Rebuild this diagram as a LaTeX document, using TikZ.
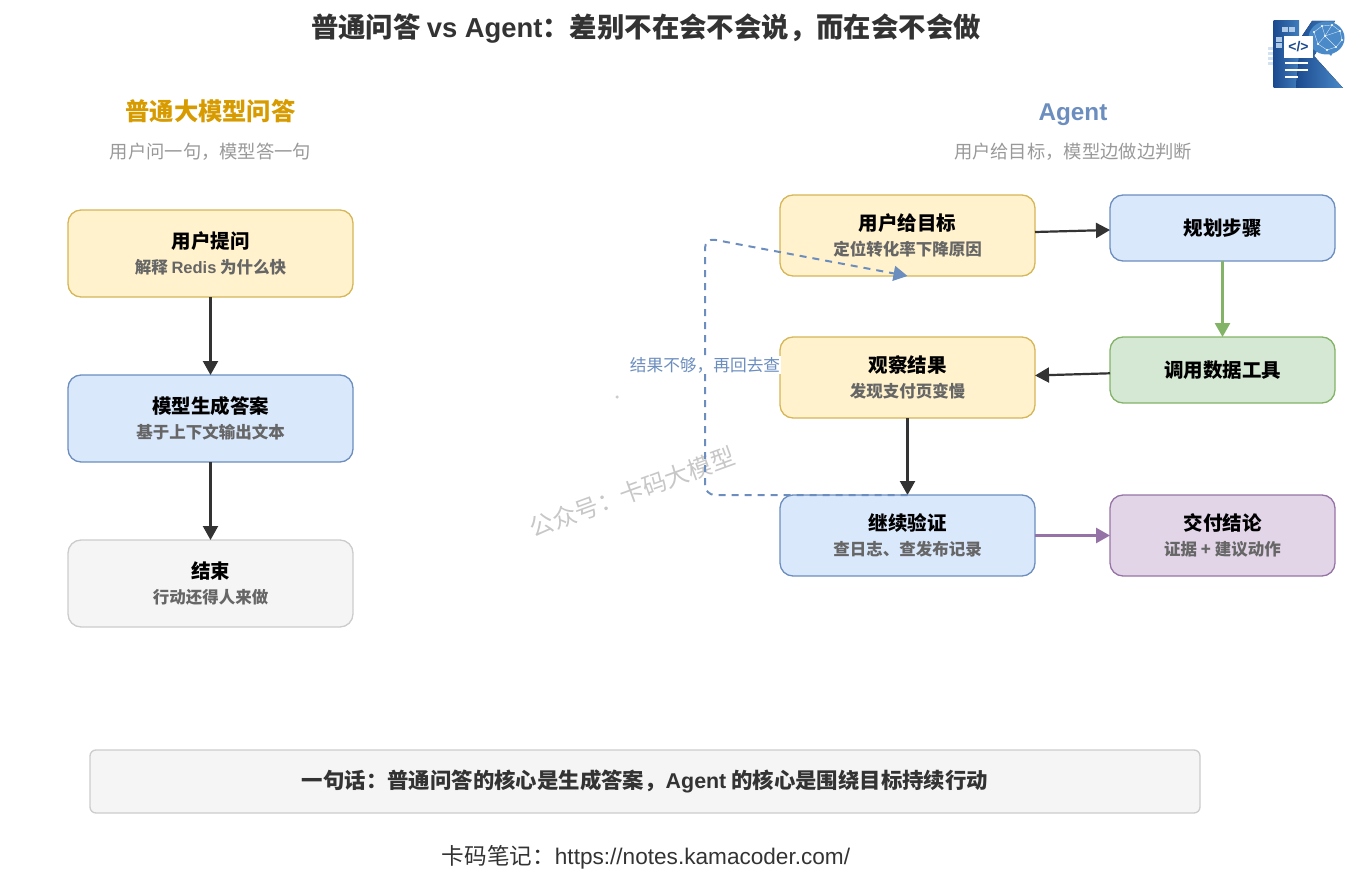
\documentclass[tikz,border=0pt]{standalone}
\usepackage{fontspec}
\setmainfont{Noto Sans CJK SC}
\newfontfamily\latinfont{Liberation Sans}
\usetikzlibrary{positioning, arrows.meta, shadings}
\definecolor{ink}{HTML}{333333}
\definecolor{subink}{HTML}{666666}
\definecolor{mutedink}{HTML}{999999}
\definecolor{amberfill}{HTML}{FFF2CC}
\definecolor{amberline}{HTML}{D6B656}
\definecolor{bluefill}{HTML}{DAE8FC}
\definecolor{blueline}{HTML}{6C8EBF}
\definecolor{greenfill}{HTML}{D5E8D4}
\definecolor{greenline}{HTML}{82B366}
\definecolor{purplefill}{HTML}{E1D5E7}
\definecolor{purpleline}{HTML}{9673A6}
\definecolor{grayfill}{HTML}{F5F5F5}
\definecolor{grayline}{HTML}{CCCCCC}
\definecolor{headamber}{HTML}{D79B00}
\definecolor{logodark}{HTML}{1B4A8F}
\definecolor{logolight}{HTML}{4A8AC9}
\newcommand{\lat}[1]{{\latinfont #1}}
\newcommand{\boxhead}[1]{{\fontsize{19.5}{25}\selectfont\color{black}#1}}
\newcommand{\boxlabel}[2]{\boxhead{#1}\\{\fontsize{16.5}{25}\selectfont\color{subink}#2}}

\begin{document}
\begin{tikzpicture}[
  x=1pt, y=1pt,
  flowbox/.style={
    draw,
    line width=1.3pt,
    rounded corners=13pt,
    align=center,
    inner sep=0pt,
    outer sep=0pt,
    minimum width=285pt,
    minimum height=87pt,
    font=\fontsize{16.5}{25}\selectfont\bfseries,
  },
  agentbox/.style={flowbox, minimum width=255pt, minimum height=81pt},
  sidebox/.style={flowbox, minimum width=225pt, minimum height=66pt},
  amberbox/.style={fill=amberfill, draw=amberline},
  bluebox/.style={fill=bluefill, draw=blueline},
  greenbox/.style={fill=greenfill, draw=greenline},
  purplebox/.style={fill=purplefill, draw=purpleline},
  graybox/.style={fill=grayfill, draw=grayline},
  flowarrow/.style={draw=ink, line width=2.2pt, -{Triangle[length=14pt, width=15pt]}},
  headtext/.style={font=\fontsize{24.3}{28}\selectfont\bfseries, text height=20pt, text depth=5pt, inner sep=0pt},
  captext/.style={font=\fontsize{18.3}{22}\selectfont, text=mutedink},
]
\useasboundingbox (0,0) rectangle (1366,-880);

% titles
\node[font=\fontsize{27.4}{32}\selectfont\bfseries, text=ink] (title) at (646,-29) {普通问答 \lat{vs Agent}：差别不在会不会说，而在会不会做};
\node[headtext, text=headamber] (plainhead) at (210.5,-113) {普通大模型问答};
\node[captext, below=39pt of plainhead.center, anchor=center] (plaincap) {用户问一句，模型答一句};
\node[headtext, text=blueline] (agenthead) at (1073,-113) {\lat{Agent}};
\node[captext, below=39pt of agenthead.center, anchor=center] (agentcap) {用户给目标，模型边做边判断};

% watermark
\node[font=\fontsize{24}{28}\selectfont, text=black!22, rotate=20] (mark) at (632,-492) {公众号：卡码大模型};
\node[circle, fill=grayline, inner sep=0pt, minimum size=3.5pt] (speck) at (617,-397) {};

% plain flow
\node[flowbox, amberbox] (ask) at (210.5,-253.5) {\boxlabel{用户提问}{解释 \lat{Redis} 为什么快}};
\node[flowbox, bluebox, below=78pt of ask] (answer) {\boxlabel{模型生成答案}{基于上下文输出文本}};
\node[flowbox, graybox, below=78pt of answer] (finish) {\boxlabel{结束}{行动还得人来做}};
\draw[flowarrow] (ask) -- (answer);
\draw[flowarrow] (answer) -- (finish);

% agent flow
\node[agentbox, amberbox] (goal) at (907.5,-235.5) {\boxlabel{用户给目标}{定位转化率下降原因}};
\node[agentbox, amberbox, below=61pt of goal] (observe) {\boxlabel{观察结果}{发现支付页变慢}};
\node[agentbox, bluebox, below=77pt of observe] (verify) {\boxlabel{继续验证}{查日志、查发布记录}};
\node[sidebox, bluebox] (plan) at (1222.5,-228) {\boxhead{规划步骤}};
\node[sidebox, greenbox, below=76pt of plan] (tool) {\boxhead{调用数据工具}};
\node[agentbox, purplebox, minimum width=225pt] (deliver) at (1222.5,-535.5) {\boxlabel{交付结论}{证据 + 建议动作}};

\draw[flowarrow] ([yshift=3.5pt]goal.east) -- ([yshift=-2pt]plan.west);
\draw[flowarrow, draw=greenline, line width=2.8pt] (plan) -- (tool);
\draw[flowarrow] (tool) -- ([yshift=2pt]observe.east);
\draw[flowarrow] (observe) -- (verify);
\draw[flowarrow, draw=purpleline, line width=2.8pt] (verify) -- (deliver);

% feedback
\coordinate (backdown) at (705,-495);
\coordinate (backup) at (705,-238);
\draw[draw=blueline, line width=2pt, dash pattern=on 7pt off 6pt, rounded corners=10pt,
  -{Triangle[length=14pt, width=15pt]}] (verify.north) -- (backdown) -- (backup) -- (goal.south);
\node[fill=white, inner sep=1pt, font=\fontsize{16.7}{20}\selectfont, text=blueline] (backlabel) at (705,-365) {结果不够，再回去查};

% summary
\node[flowbox, graybox, minimum width=1110pt, minimum height=63pt, rounded corners=6pt,
  font=\fontsize{21.4}{25}\selectfont\bfseries, text=ink] (summary) at (645,-781.5) {一句话：普通问答的核心是生成答案，\lat{Agent} 的核心是围绕目标持续行动};
\node[font=\fontsize{22.6}{26}\selectfont, text=ink] (notes) at (646,-857) {卡码笔记：\lat{https://notes.kamacoder.com/}};

% logo
\fill[left color=logodark, right color=logolight!80!logodark] (1273.5,-21) rectangle (1299,-88);
\fill[left color=logodark, right color=logolight]
  (1296,-88) -- (1299,-58) -- (1302,-36) -- (1312,-21) -- (1335,-21) -- (1314,-56) -- (1343,-88) -- cycle;
\fill[logolight] (1326.5,-38) ellipse (18pt and 16.5pt);
\fill[logolight] (1325,-50) -- (1334,-50) -- (1331,-56) -- cycle;
\draw[white!75!logolight, line width=0.4pt] (1314,-32) -- (1322,-26) -- (1332,-25) -- (1340,-31) -- (1342,-40) -- (1336,-47) -- (1327,-50) -- (1318,-44) -- (1314,-32)
  (1322,-26) -- (1325,-36) -- (1332,-25) (1318,-44) -- (1325,-36) -- (1340,-31) (1325,-36) -- (1336,-47);
\foreach \px/\py in {1314/-32, 1322/-26, 1332/-25, 1340/-31, 1342/-40, 1336/-47, 1327/-50, 1318/-44, 1325/-36}
  \fill[white] (\px,\py) circle (1.1pt);
\foreach \px/\py in {1282/-27, 1289/-27, 1276/-37, 1276/-43}
  \fill[logolight!45!white] (\px,\py) rectangle ++(5.5,-5);
\foreach \py in {-47, -52, -57, -62}
  \fill[logolight!25!white] (1268,\py) rectangle ++(5,-3);
\fill[white] (1284,-36) rectangle (1313,-58);
\node[font=\fontsize{14}{15}\selectfont\bfseries, text=logodark, inner sep=0pt] (logocode) at (1298.5,-47) {\lat{</>}};
\fill[white] (1285,-62) rectangle (1308,-64.5);
\fill[white] (1285,-69) rectangle (1308,-71.5);
\fill[white] (1285,-76) rectangle (1298,-78.5);
\end{tikzpicture}
\end{document}
